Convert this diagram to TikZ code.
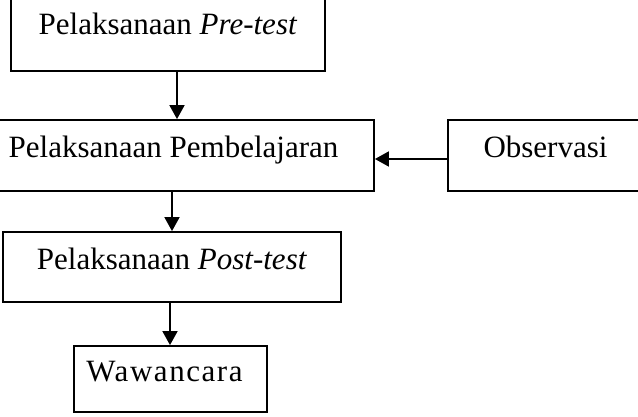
\documentclass[tikz,border=0pt]{standalone}
\usepackage{fontspec}
\setmainfont{Liberation Serif}
\usetikzlibrary{arrows.meta}
\begin{document}
\begin{tikzpicture}[x=1pt,y=-1pt,
  box/.style={draw=black, line width=1.8pt, rectangle, inner sep=0pt,
    font=\fontsize{31}{36}\selectfont, text height=0.7em, text depth=0.25em},
  conn/.style={line width=1.8pt, -{Triangle[length=14pt,width=15pt]}}]
\useasboundingbox (0,0) rectangle (638,417);
\clip (0,0) rectangle (638,417);
\node[box, minimum width=314pt, minimum height=77pt] (pre) at (168,32.5) {Pelaksanaan \textit{Pre-test}};
\node[box, minimum width=401pt, minimum height=71pt] (pemb) at (173.5,155.5) {Pelaksanaan Pembelajaran};
\node[box, minimum width=195pt, minimum height=71pt] (obs) at (545.5,155.5) {Observasi};
\node[box, minimum width=338pt, minimum height=70pt] (post) at (172,267) {Pelaksanaan \textit{Post-test}};
\node[box, minimum width=193pt, minimum height=66pt] (waw) at (170.5,379) {\addfontfeature{LetterSpace=5}Wawancara\hspace*{12pt}};
\draw[conn] ([xshift=9pt]pre.south) -- ([xshift=3.5pt]pemb.north);
\draw[conn] ([xshift=-1.5pt]pemb.south) -- (post.north);
\draw[conn] ([xshift=-2pt]post.south) -- ([xshift=-0.5pt]waw.north);
\draw[conn] ([yshift=-3.5pt]obs.west) -- ([yshift=-3.5pt]pemb.east);
\end{tikzpicture}
\end{document}
